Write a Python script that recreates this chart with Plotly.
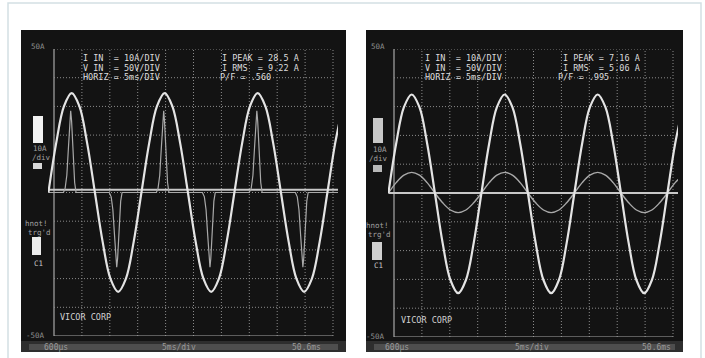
import plotly.graph_objects as go

W, H = 705, 358

# ---------------- data ----------------
# time samples (ms) for the sinusoidal traces (every 30 degrees of a 60 Hz cycle)
t_sine = [-0.40, 0.99, 2.38, 3.77, 5.16, 6.54, 7.93, 9.32, 10.71, 12.10, 13.49, 14.88,
          16.27, 17.66, 19.04, 20.43, 21.82, 23.21, 24.60, 25.99, 27.38, 28.77, 30.16, 31.54,
          32.93, 34.32, 35.71, 37.10, 38.49, 39.88, 41.27, 42.66, 44.04, 45.43, 46.82, 48.21,
          49.60, 50.99, 52.38]
# left scope: line voltage (V)
v_left = [0, 86, 150, 173, 150, 86, 0, -86, -150, -173, -150, -86,
          0, 86, 150, 173, 150, 86, 0, -86, -150, -173, -150, -86,
          0, 86, 150, 173, 150, 86, 0, -86, -150, -173, -150, -86,
          0, 86, 150]
# right scope: line voltage (V)
v_right = [0, 86, 149, 171, 149, 86, 0, -87, -151, -174, -151, -87,
           0, 86, 149, 171, 149, 86, 0, -87, -151, -174, -151, -87,
           0, 86, 149, 171, 149, 86, 0, -87, -151, -174, -151, -87,
           0, 86, 149]
# right scope: PFC input current (A)
i_right = [0, 3.6, 6.2, 7.16, 6.2, 3.6, 0, -3.4, -5.9, -6.8, -5.9, -3.4,
           0, 3.6, 6.2, 7.16, 6.2, 3.6, 0, -3.4, -5.9, -6.8, -5.9, -3.4,
           0, 3.6, 6.2, 7.16, 6.2, 3.6, 0, -3.4, -5.9, -6.8, -5.9, -3.4,
           0, 3.6, 6.2]
# left scope: capacitor-input rectifier current pulses (ms, A)
t_pulse = [-0.4, 2.3, 2.6, 2.9, 3.2, 3.45, 3.59, 3.75, 4.0, 4.3, 4.55,
           10.5, 10.85, 11.15, 11.45, 11.7, 11.84, 12.0, 12.25, 12.55, 12.8,
           18.95, 19.25, 19.55, 19.85, 20.1, 20.26, 20.4, 20.65, 20.95, 21.2,
           27.2, 27.55, 27.85, 28.15, 28.4, 28.55, 28.7, 28.95, 29.25, 29.5,
           35.6, 35.95, 36.25, 36.55, 36.8, 36.95, 37.1, 37.35, 37.65, 37.9,
           43.85, 44.2, 44.5, 44.8, 45.05, 45.2, 45.35, 45.6, 45.9, 46.15, 52.4]
i_pulse = [0, 0, 1.5, 6, 16, 25, 28.5, 25, 13, 3.5, 0,
           0, -1.5, -6, -15, -23, -26, -23, -12, -3, 0,
           0, 1.5, 6, 16, 25, 28.5, 25, 13, 3.5, 0,
           0, -1.5, -6, -15, -23, -26, -23, -12, -3, 0,
           0, 1.5, 6, 16, 25, 28.5, 25, 13, 3.5, 0,
           0, -1.5, -6, -15, -23, -26, -23, -12, -3, 0, 0]
# reference (zero) line of each scope (A)
ref_left = 1.0
ref_right = 0.0

# scope settings / labels
v_per_div, a_per_div = 50, 10
x_ticks = [0.6, 5.6, 10.6, 15.6, 20.6, 25.6, 30.6, 35.6, 40.6, 45.6, 50.6]
y_ticks = [-50, -40, -30, -20, -10, 0, 10, 20, 30, 40, 50]
readout_left = ["I IN  = 10A/DIV", "V IN  = 50V/DIV", "HORIZ = 5ms/DIV"]
meas_left = ["I PEAK = 28.5 A", "I RMS  = 9.22 A", "P/F = .560"]
readout_right = ["I IN  = 10A/DIV", "V IN  = 50V/DIV", "HORIZ = 5ms/DIV"]
meas_right = ["I PEAK = 7.16 A", "I RMS  = 5.06 A", "P/F = .995"]
time_labels = ["600\u00b5s", "5ms/div", "50.6ms"]

# ---------------- helpers ----------------
def px(x):
    return x / W

def py(y):
    return 1 - y / H

vscale = a_per_div / v_per_div
fig = go.Figure()

MONO = "DejaVu Sans Mono"
panels = [
    # black panel box, grid box (px), overhang of traces (px)
    dict(xa="x", ya="y", black=(21, 30, 346, 352), grid=(54, 49, 333, 336), over=(6, 5)),
    dict(xa="x2", ya="y2", black=(366, 30, 683, 352), grid=(394, 49, 673, 337), over=(6, 5)),
]

shapes = []
annotations = []

# page frame
shapes.append(dict(type="rect", xref="paper", yref="paper", x0=px(8), x1=px(701), y0=py(372), y1=py(3),
                   line=dict(color="#d3e0e4", width=1.5), fillcolor="rgba(0,0,0,0)", layer="below"))

for k, p in enumerate(panels):
    bx0, by0, bx1, by1 = p["black"]
    shapes.append(dict(type="rect", xref="paper", yref="paper", x0=px(bx0), x1=px(bx1), y0=py(by1), y1=py(by0),
                       line=dict(width=0), fillcolor="#131313", layer="below"))
    # bottom label strip (lighter band)
    shapes.append(dict(type="rect", xref="paper", yref="paper", x0=px(bx0), x1=px(bx1), y0=py(352), y1=py(341),
                       line=dict(width=0), fillcolor="#2e2e2e", layer="below"))
    shapes.append(dict(type="rect", xref="paper", yref="paper", x0=px(bx0 + 8), x1=px(bx1 - 8), y0=py(350), y1=py(344),
                       line=dict(width=0), fillcolor="#4e4e4e", layer="below"))
    xa, ya = p["xa"], p["ya"]
    # grid
    for i, tv in enumerate(x_ticks):
        solid = i == 0
        shapes.append(dict(type="line", xref=xa, yref=ya, x0=tv, x1=tv, y0=y_ticks[0], y1=y_ticks[-1],
                           line=dict(color="#a8a8a8" if solid else "#8c8c8c", width=1.2 if solid else 1,
                                     dash="solid" if solid else "1px,2px"), layer="below"))
    for i, tv in enumerate(y_ticks):
        solid = i == 0
        shapes.append(dict(type="line", xref=xa, yref=ya, x0=x_ticks[0], x1=x_ticks[-1], y0=tv, y1=tv,
                           line=dict(color="#a8a8a8" if solid else "#8c8c8c", width=1.2 if solid else 1,
                                     dash="solid" if solid else "1px,2px"), layer="below"))

# traces: left
fig.add_trace(go.Scatter(x=[t_sine[0], t_sine[-1]], y=[ref_left, ref_left], mode="lines",
                         line=dict(color="#c8c8c8", width=2), xaxis="x", yaxis="y", hoverinfo="skip"))
fig.add_trace(go.Scatter(x=t_pulse, y=i_pulse, mode="lines",
                         line=dict(color="#a9a9a9", width=1.2), xaxis="x", yaxis="y", hoverinfo="skip"))
fig.add_trace(go.Scatter(x=t_sine, y=[v * vscale for v in v_left], mode="lines",
                         line=dict(color="#e4e4e4", width=2.2, shape="spline"), xaxis="x", yaxis="y",
                         hoverinfo="skip"))
# traces: right
fig.add_trace(go.Scatter(x=[t_sine[0], t_sine[-1]], y=[ref_right, ref_right], mode="lines",
                         line=dict(color="#c8c8c8", width=2), xaxis="x2", yaxis="y2", hoverinfo="skip"))
fig.add_trace(go.Scatter(x=t_sine, y=i_right, mode="lines",
                         line=dict(color="#a9a9a9", width=1.4, shape="spline"), xaxis="x2", yaxis="y2",
                         hoverinfo="skip"))
fig.add_trace(go.Scatter(x=t_sine, y=[v * vscale for v in v_right], mode="lines",
                         line=dict(color="#e4e4e4", width=2.2, shape="spline"), xaxis="x2", yaxis="y2",
                         hoverinfo="skip"))

# axes
layout_axes = {}
for k, p in enumerate(panels):
    gx0, gy0, gx1, gy1 = p["grid"]
    o0, o1 = p["over"]
    ms_per_px = (x_ticks[-1] - x_ticks[0]) / (gx1 - gx0)
    xr = [x_ticks[0] - o0 * ms_per_px, x_ticks[-1] + o1 * ms_per_px]
    sfx = "" if k == 0 else "2"
    layout_axes["xaxis" + sfx] = dict(domain=[px(gx0 - o0), px(gx1 + o1)], range=xr, visible=False,
                                      fixedrange=True, anchor="y" + sfx)
    layout_axes["yaxis" + sfx] = dict(domain=[py(gy1), py(gy0)], range=[y_ticks[0], y_ticks[-1]], visible=False,
                                      fixedrange=True, anchor="x" + sfx)

def txt(x, y, s, size=9, color="#dcdcdc", anchor="left"):
    annotations.append(dict(x=px(x), y=py(y), xref="paper", yref="paper", text=s, showarrow=False,
                            xanchor=anchor, yanchor="middle", font=dict(family=MONO, size=size, color=color)))

RO = 8.5      # readout font size
LS = 9.5      # readout line step (px)

# left panel texts
for j, s in enumerate(readout_left):
    txt(81, 58 + LS * j, s, size=RO)
for j, s in enumerate(meas_left):
    txt(220 if j < 2 else 218, 58 + LS * j, s, size=RO)
txt(29, 46, "50A", 7.5, "#8e8e8e")
txt(24, 335, "-50A", 7.5, "#8e8e8e")
txt(58, 317, "VICOR CORP", 8.5, "#d0d0d0")
txt(31, 149, "10A", 7.5, "#a0a0a0")
txt(30, 158, "/div", 7.5, "#a0a0a0")
txt(23, 223, "hnot!", 7.5, "#a0a0a0")
txt(26, 232, "trg'd", 7.5, "#a0a0a0")
txt(32, 263, "C1", 7.5, "#c8c8c8")
txt(42, 347, time_labels[0], 8, "#9a9a9a")
txt(160, 347, time_labels[1], 8, "#9a9a9a")
txt(290, 347, time_labels[2], 8, "#9a9a9a")

# right panel texts
for j, s in enumerate(readout_right):
    txt(423, 58 + LS * j, s, size=RO)
for j, s in enumerate(meas_right):
    txt(561 if j < 2 else 556, 58 + LS * j, s, size=RO)
txt(369, 46, "50A", 7.5, "#8e8e8e")
txt(364, 336, "-50A", 7.5, "#8e8e8e")
txt(399, 320, "VICOR CORP", 8.5, "#d0d0d0")
txt(371, 150, "10A", 7.5, "#a0a0a0")
txt(367, 159, "/div", 7.5, "#a0a0a0")
txt(364, 225, "hnot!", 7.5, "#a0a0a0")
txt(366, 234, "trg'd", 7.5, "#a0a0a0")
txt(372, 265, "C1", 7.5, "#c8c8c8")
txt(383, 347, time_labels[0], 8, "#9a9a9a")
txt(513, 347, time_labels[1], 8, "#9a9a9a")
txt(640, 347, time_labels[2], 8, "#9a9a9a")

# channel indicator boxes
for (x0, y0, x1, y1, c) in [(33, 116, 43, 143, "#f2f2f2"), (33, 163, 42, 169, "#d8d8d8"), (32, 237, 41, 255, "#ececec"),
                            (373, 118, 383, 143, "#c8c8c8"), (373, 165, 382, 172, "#b8b8b8"),
                            (372, 242, 382, 260, "#d0d0d0")]:
    shapes.append(dict(type="rect", xref="paper", yref="paper", x0=px(x0), x1=px(x1), y0=py(y1), y1=py(y0),
                       line=dict(width=0), fillcolor=c, layer="above"))

fig.update_layout(width=W, height=H, margin=dict(l=0, r=0, t=0, b=0), paper_bgcolor="white",
                  plot_bgcolor="rgba(0,0,0,0)", showlegend=False, shapes=shapes, annotations=annotations,
                  **layout_axes)
fig.write_html("out.html", config={"displayModeBar": False},
               post_script="document.body.style.margin='0px';document.body.style.overflow='hidden';")
